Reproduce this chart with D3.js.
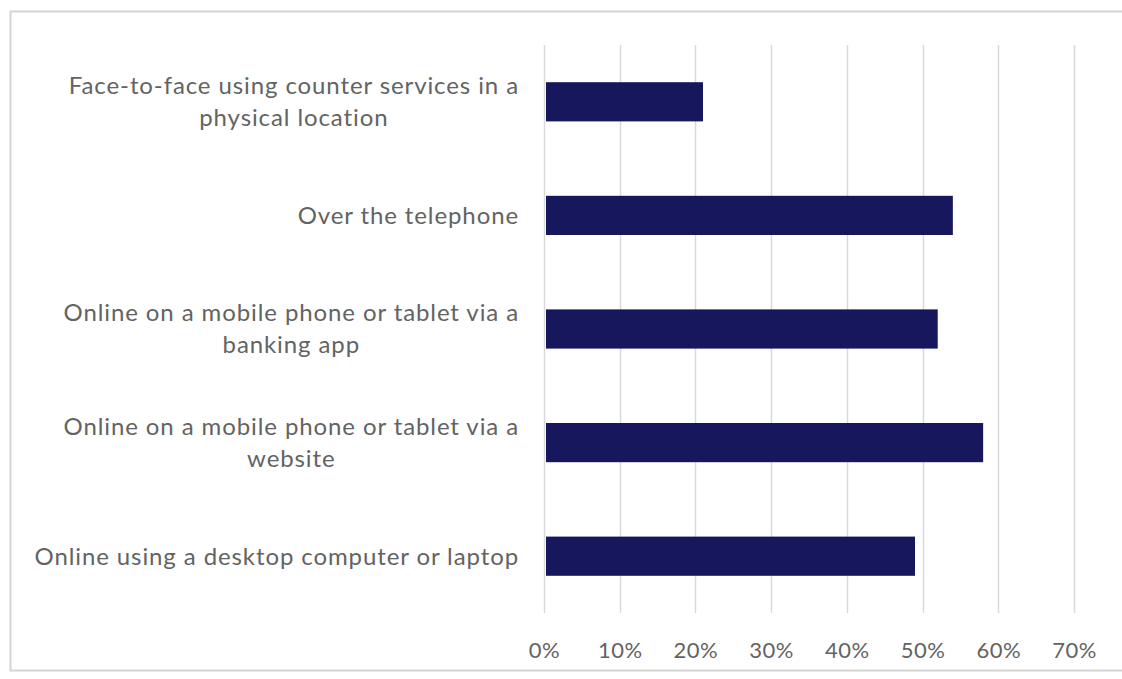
<!DOCTYPE html>
<html>
<head>
<meta charset="utf-8">
<script src="https://cdn.jsdelivr.net/npm/d3@7"></script>
<style>
  body { margin: 0; background: #fff; }
  svg { display: block; }
</style>
</head>
<body>
<svg width="1122" height="679"></svg>
<script>
const width = 1122, height = 679;

// data
const categories = [
  ["Face-to-face using counter services in a", "physical location"],
  ["Over the telephone"],
  ["Online on a mobile phone or tablet via a", "banking app"],
  ["Online on a mobile phone or tablet via a", "website"],
  ["Online using a desktop computer or laptop"]
];
const values = [0.21, 0.54, 0.52, 0.58, 0.49];
const tickValues = [0, 0.1, 0.2, 0.3, 0.4, 0.5, 0.6, 0.7];

const plot = {left: 544, right: 1074, top: 45, bottom: 613};
const textColor = "#636363";
const barColor = "#17175e";
const fontFamily = "Lato, 'Open Sans', sans-serif";

const svg = d3.select("svg");

// chart frame
svg.append("rect")
  .attr("x", 10.5).attr("y", 11.5)
  .attr("width", 1130).attr("height", 659)
  .attr("fill", "#fff")
  .attr("stroke", "#d4d4d4")
  .attr("stroke-width", 2);

const x = d3.scaleLinear().domain([0, 0.7]).range([plot.left, plot.right]);
const y = d3.scaleBand()
  .domain(d3.range(categories.length))
  .range([plot.top, plot.bottom])
  .paddingInner(0.655)
  .paddingOuter(0.3275);

// gridlines
svg.append("g")
  .selectAll("line")
  .data(tickValues)
  .join("line")
  .attr("x1", d => Math.round(x(d)) + 0.5)
  .attr("x2", d => Math.round(x(d)) + 0.5)
  .attr("y1", plot.top)
  .attr("y2", plot.bottom)
  .attr("stroke", "#d9d9d9")
  .attr("stroke-width", 1.5);

// bars
svg.append("g")
  .selectAll("rect")
  .data(values)
  .join("rect")
  .attr("x", x(0) + 2)
  .attr("y", (d, i) => y(i))
  .attr("width", d => x(d) - x(0) - 2)
  .attr("height", y.bandwidth())
  .attr("fill", barColor);

// x axis tick labels
const xAxis = d3.axisBottom(x)
  .tickValues(tickValues)
  .tickFormat(d3.format(".0%"))
  .tickSize(0)
  .tickPadding(29);

svg.append("g")
  .attr("transform", `translate(0, ${plot.bottom})`)
  .call(xAxis)
  .call(g => g.select(".domain").remove())
  .selectAll("text")
  .attr("font-family", fontFamily)
  .attr("font-size", "22px")
  .attr("letter-spacing", "0.5px")
  .attr("fill", textColor);

// category labels (wrapped lines centred on each other, block right-aligned)
const labelRight = 519;
const lineGap = 32;
const labels = svg.append("g")
  .attr("font-family", fontFamily)
  .attr("font-size", "24px")
  .attr("letter-spacing", "0.9px")
  .attr("fill", textColor);

categories.forEach((lines, i) => {
  const cy = y(i) + y.bandwidth() / 2;
  const t = labels.append("text").attr("text-anchor", "middle");
  lines.forEach((line, j) => {
    t.append("tspan")
      .attr("y", cy + (j - (lines.length - 1) / 2) * lineGap)
      .attr("dy", "0.35em")
      .text(line);
  });
  // width of the widest line, to right-align the block
  let w = 0;
  t.selectAll("tspan").each(function() { w = Math.max(w, this.getComputedTextLength()); });
  t.selectAll("tspan").attr("x", labelRight - w / 2);
});
</script>
</body>
</html>
